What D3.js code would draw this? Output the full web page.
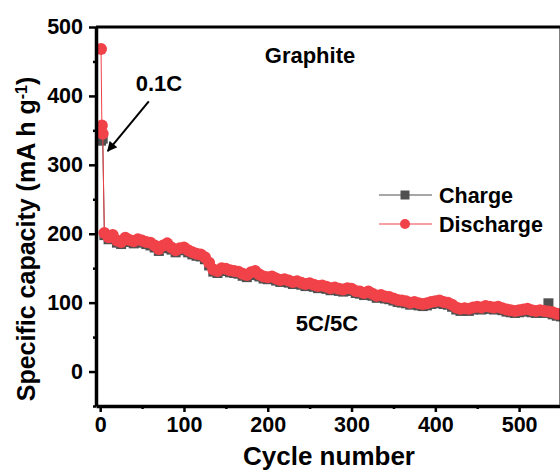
<!DOCTYPE html>
<html>
<head>
<meta charset="utf-8">
<script src="https://cdn.jsdelivr.net/npm/d3@7"></script>
<style>
  body { margin: 0; background: #fff; }
  svg text { font-family: "Liberation Sans", Arial, sans-serif; font-weight: bold; fill: #000; }
</style>
</head>
<body>
<div id="chart"></div>
<script>
// cycle numbers (0.1C formation cycles, then every 5th cycle at 5C/5C)
var cycles = [1, 2, 3,
  5, 10, 15, 20, 25, 30, 35, 40, 45, 50,
  55, 60, 65, 70, 75, 80, 85, 90, 95, 100,
  105, 110, 115, 120, 125, 130, 135, 140, 145, 150,
  155, 160, 165, 170, 175, 180, 185, 190, 195, 200,
  205, 210, 215, 220, 225, 230, 235, 240, 245, 250,
  255, 260, 265, 270, 275, 280, 285, 290, 295, 300,
  305, 310, 315, 320, 325, 330, 335, 340, 345, 350,
  355, 360, 365, 370, 375, 380, 385, 390, 395, 400,
  405, 410, 415, 420, 425, 430, 435, 440, 445, 450,
  455, 460, 465, 470, 475, 480, 485, 490, 495, 500,
  505, 510, 515, 520, 525, 530, 535, 540, 545, 550];

var chargeCap = [335, 340, 338,
  198, 192, 194, 187, 185, 190, 188, 186, 188, 187,
  185, 183, 180, 175, 179, 182, 177, 173, 176, 177,
  173, 170, 168, 167, 163, 154, 145, 143, 146, 146,
  144, 143, 142, 139, 137, 140, 142, 138, 135, 134,
  135, 132, 130, 131, 129, 127, 128, 126, 124, 125,
  123, 121, 122, 120, 118, 119, 117, 116, 118, 117,
  114, 113, 111, 113, 110, 107, 108, 106, 105, 103,
  101, 100, 99, 97, 98, 96, 95, 96, 98, 99,
  100, 98, 97, 94, 90, 88, 89, 88, 90, 91,
  90, 92, 91, 90, 91, 89, 87, 86, 85, 86,
  87, 88, 86, 85, 86, 85, 99, 83, 81, 80];

var dischargeCap = [468, 357, 345,
  201, 195, 198, 190, 188, 194, 191, 189, 192, 190,
  188, 187, 183, 178, 183, 186, 180, 176, 179, 180,
  176, 173, 171, 170, 166, 158, 148, 146, 150, 149,
  147, 146, 145, 142, 140, 144, 146, 141, 138, 137,
  138, 135, 133, 134, 132, 130, 131, 129, 127, 128,
  126, 124, 125, 123, 121, 122, 120, 119, 121, 120,
  117, 116, 114, 116, 113, 110, 111, 109, 108, 106,
  104, 103, 102, 100, 101, 99, 98, 99, 101, 102,
  103, 101, 100, 97, 93, 91, 92, 91, 93, 94,
  93, 95, 94, 93, 94, 92, 90, 89, 88, 89,
  90, 91, 89, 88, 89, 88, 87, 86, 84, 83];

var xTicks = [0, 100, 200, 300, 400, 500];
var xMinor = [50, 150, 250, 350, 450, 550];
var yTicks = [0, 100, 200, 300, 400, 500];
var yMinor = [-50, 50, 150, 250, 350, 450];

var svgWidth = 560;
var svgHeight = 471;

var margin = { top: 27, left: 96, right: -1, bottom: 65 };
var width = svgWidth - margin.left - margin.right;
var height = svgHeight - margin.top - margin.bottom;

var grey = "#505050";
var red = "#f04248";

var svg = d3.select("#chart")
  .append("svg")
  .attr("width", svgWidth)
  .attr("height", svgHeight);

var x = d3.scaleLinear().domain([-5, 550]).range([margin.left, margin.left + width]);
var y = d3.scaleLinear().domain([-50, 500]).range([margin.top + height, margin.top]);

var chargeData = cycles.map((c, i) => ({ c: c, v: chargeCap[i] }));
var dischargeData = cycles.map((c, i) => ({ c: c, v: dischargeCap[i] }));

var line = d3.line().x(d => x(d.c)).y(d => y(d.v));

// charge series
svg.append("path")
  .datum(chargeData)
  .attr("d", line)
  .attr("fill", "none")
  .attr("stroke", grey)
  .attr("stroke-width", 1);

svg.append("g").selectAll("rect")
  .data(chargeData)
  .enter()
  .append("rect")
  .attr("x", d => x(d.c) - 5)
  .attr("y", d => y(d.v) - 5)
  .attr("width", 10)
  .attr("height", 10)
  .attr("fill", grey);

// discharge series
svg.append("path")
  .datum(dischargeData)
  .attr("d", line)
  .attr("fill", "none")
  .attr("stroke", red)
  .attr("stroke-width", 1);

svg.append("g").selectAll("circle")
  .data(dischargeData)
  .enter()
  .append("circle")
  .attr("cx", d => x(d.c))
  .attr("cy", d => y(d.v))
  .attr("r", 6)
  .attr("fill", red);

// frame
svg.append("line")
  .attr("x1", margin.left).attr("x2", margin.left + width)
  .attr("y1", margin.top).attr("y2", margin.top)
  .attr("stroke", "#000").attr("stroke-width", 3);
svg.append("line")
  .attr("x1", margin.left + width).attr("x2", margin.left + width)
  .attr("y1", margin.top).attr("y2", margin.top + height)
  .attr("stroke", "#000").attr("stroke-width", 3);

// axes
var xAxis = svg.append("g")
  .attr("transform", `translate(0, ${margin.top + height})`)
  .call(d3.axisBottom(x).tickValues(xTicks).tickSize(6).tickPadding(5).tickSizeOuter(0));
svg.append("g")
  .attr("transform", `translate(0, ${margin.top + height})`)
  .call(d3.axisBottom(x).tickValues(xMinor).tickSize(3).tickFormat("").tickSizeOuter(0))
  .select(".domain").remove();

var yAxis = svg.append("g")
  .attr("transform", `translate(${margin.left}, 0)`)
  .call(d3.axisLeft(y).tickValues(yTicks).tickSize(7).tickPadding(6).tickSizeOuter(0));
svg.append("g")
  .attr("transform", `translate(${margin.left}, 0)`)
  .call(d3.axisLeft(y).tickValues(yMinor).tickSize(3).tickFormat("").tickSizeOuter(0))
  .select(".domain").remove();

svg.selectAll(".domain").attr("stroke-width", 3.5);
svg.selectAll(".tick line").attr("stroke-width", 2.5);
svg.selectAll(".tick text")
  .style("font-family", "Liberation Sans, Arial, sans-serif")
  .style("font-weight", "bold")
  .style("font-size", "21.5px");
xAxis.selectAll(".tick text").attr("dy", "0.71em");

// axis titles
svg.append("text")
  .attr("x", 329)
  .attr("y", 465)
  .attr("text-anchor", "middle")
  .style("font-size", "26px")
  .text("Cycle number");

var yTitle = svg.append("text")
  .attr("transform", "translate(35, 239) rotate(-90)")
  .attr("text-anchor", "middle")
  .style("font-size", "25px");
yTitle.append("tspan").text("Specific capacity (mA h g");
yTitle.append("tspan").attr("baseline-shift", "super").style("font-size", "16px").text("-1");
yTitle.append("tspan").text(")");

// annotations
svg.append("text")
  .attr("x", 310).attr("y", 63)
  .attr("text-anchor", "middle")
  .style("font-size", "22px")
  .text("Graphite");

svg.append("text")
  .attr("x", 159).attr("y", 91)
  .attr("text-anchor", "middle")
  .style("font-size", "22px")
  .text("0.1C");

svg.append("text")
  .attr("x", 327).attr("y", 331)
  .attr("text-anchor", "middle")
  .style("font-size", "22px")
  .text("5C/5C");

// arrow pointing at the 0.1C cycles
svg.append("defs").append("marker")
  .attr("id", "arrow")
  .attr("viewBox", "0 0 10 10")
  .attr("refX", 9).attr("refY", 5)
  .attr("markerWidth", 13).attr("markerHeight", 10)
  .attr("markerUnits", "userSpaceOnUse")
  .attr("orient", "auto")
  .append("path")
  .attr("d", "M0,0 L10,5 L0,10 z")
  .attr("fill", "#000");

svg.append("line")
  .attr("x1", x(58)).attr("y1", y(392))
  .attr("x2", x(9)).attr("y2", y(320))
  .attr("stroke", "#000")
  .attr("stroke-width", 2)
  .attr("marker-end", "url(#arrow)");

// legend
var legend = svg.append("g");
var legendItems = [
  { name: "Charge", color: grey, shape: "square", ly: 195 },
  { name: "Discharge", color: red, shape: "circle", ly: 224 }
];
legendItems.forEach(item => {
  legend.append("line")
    .attr("x1", 379).attr("x2", 432)
    .attr("y1", item.ly).attr("y2", item.ly)
    .attr("stroke", item.color).attr("stroke-width", 1.2);
  if (item.shape === "square") {
    legend.append("rect")
      .attr("x", 400.5).attr("y", item.ly - 4.5)
      .attr("width", 9).attr("height", 9)
      .attr("fill", item.color);
  } else {
    legend.append("circle")
      .attr("cx", 405).attr("cy", item.ly).attr("r", 5)
      .attr("fill", item.color);
  }
  legend.append("text")
    .attr("x", 439).attr("y", item.ly + 8)
    .style("font-size", "21.5px")
    .text(item.name);
});
</script>
</body>
</html>
